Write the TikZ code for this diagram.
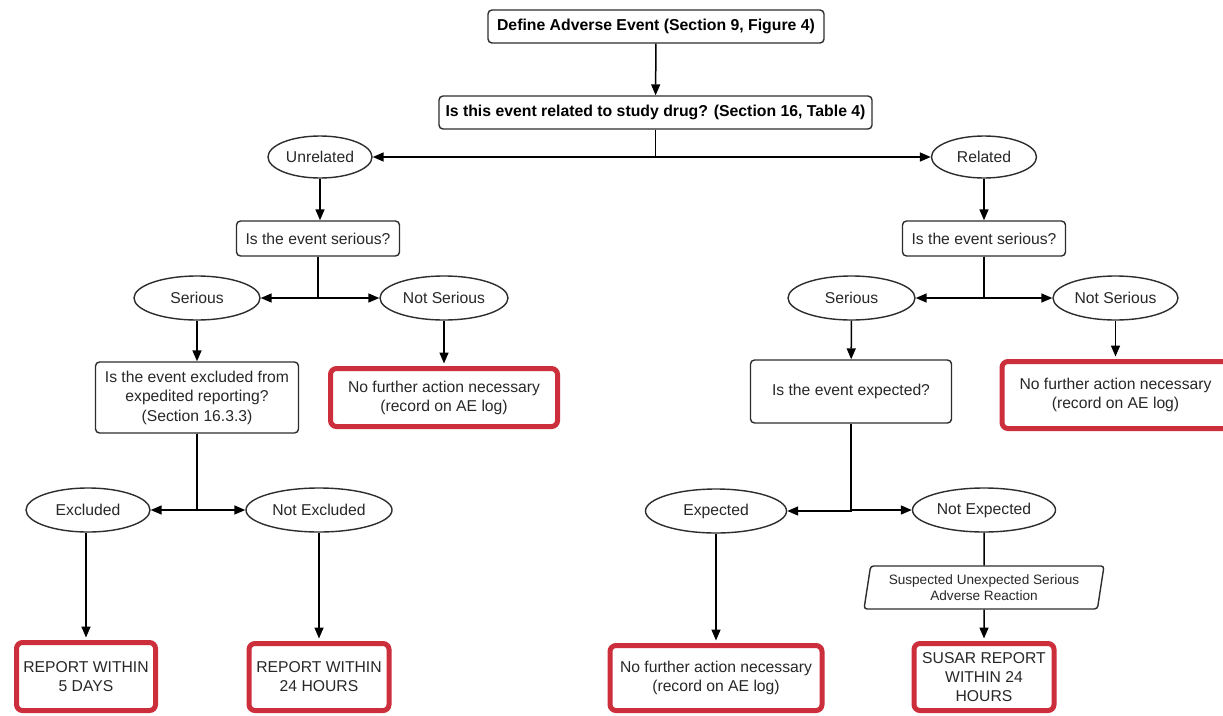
\documentclass[tikz,border=0pt]{standalone}
\usepackage{fontspec}
\setmainfont{Liberation Sans}
\usetikzlibrary{arrows.meta,shapes.geometric}
\definecolor{redb}{RGB}{204,46,60}
\definecolor{txt}{RGB}{40,40,40}
\definecolor{edge}{RGB}{45,45,45}
\tikzset{
  base/.style={inner sep=0pt, align=center, text=txt, font=\fontsize{15.7}{19}\selectfont},
  qbox/.style={base, draw=edge, line width=1.4pt, rounded corners=4pt},
  redbox/.style={base, draw=redb, line width=5pt, rounded corners=6pt},
  oval/.style={base, ellipse, draw=edge, line width=1.4pt},
  para/.style={base, trapezium, trapezium left angle=76, trapezium right angle=104,
     trapezium stretches body, draw=edge, line width=1.4pt, rounded corners=3pt,
     font=\fontsize{13.6}{16.5}\selectfont},
  conn/.style={line width=1.5pt, draw=black, -{Triangle[length=11pt,width=9pt]}},
  plain/.style={line width=1.5pt, draw=black},
}
\begin{document}
\begin{tikzpicture}[x=1pt,y=-1pt]
\useasboundingbox[fill=white] (0,0) rectangle (1223,715);
% top
\node[qbox, minimum width=336pt, minimum height=33pt, font=\bfseries\fontsize{15.8}{18}\selectfont, text=black] (def) at (656,26.5) {Define Adverse Event (Section 9, Figure 4)};
\node[qbox, minimum width=433pt, minimum height=33pt, font=\bfseries\fontsize{15.8}{18}\selectfont, text=black] (rel) at (655.5,112.5) {Is this event related to study drug? (Section 16, Table 4)};
\node[oval, minimum width=104pt, minimum height=42pt] (unr) at (320,157) {Unrelated};
\node[oval, minimum width=105pt, minimum height=42pt] (rld) at (984,157) {Related};
% left branch
\node[qbox, minimum width=163pt, minimum height=35pt] (lser) at (318,238.5) {Is the event serious?};
\node[oval, minimum width=126pt, minimum height=44pt] (ls) at (197,298) {Serious};
\node[oval, minimum width=128pt, minimum height=44pt] (lns) at (444,298) {Not Serious};
\node[qbox, minimum width=203pt, minimum height=71pt, font=\fontsize{15.7}{19.5}\selectfont] (lexc) at (197,397.5) {Is the event excluded from\\expedited reporting?\\(Section 16.3.3)};
\node[redbox, minimum width=227pt, minimum height=58pt] (lnfa) at (444,397.5) {No further action necessary\\(record on AE log)};
\node[oval, minimum width=124pt, minimum height=44pt] (exc) at (88,510) {Excluded};
\node[oval, minimum width=146pt, minimum height=44pt] (nexc) at (319,510) {Not Excluded};
\node[redbox, minimum width=139pt, minimum height=68pt] (r5) at (86,676.5) {REPORT WITHIN\\5 DAYS};
\node[redbox, minimum width=140pt, minimum height=67pt] (r24) at (319,677) {REPORT WITHIN\\24 HOURS};
% right branch
\node[qbox, minimum width=163pt, minimum height=35pt] (rser) at (984,238.5) {Is the event serious?};
\node[oval, minimum width=127pt, minimum height=44pt] (rs) at (851.5,298) {Serious};
\node[oval, minimum width=125pt, minimum height=44pt] (rns) at (1115.5,298) {Not Serious};
\node[qbox, minimum width=201pt, minimum height=63pt] (rexp) at (851,391.5) {Is the event expected?};
\node[redbox, minimum width=227pt, minimum height=67pt] (rnfa) at (1115.5,395) {No further action necessary\\(record on AE log)};
\node[oval, minimum width=141pt, minimum height=44pt] (ex) at (716,511) {Expected};
\node[oval, minimum width=143pt, minimum height=44pt] (nex) at (984,510) {Not Expected};
\node[para, minimum width=240pt, minimum height=43pt] (sus) at (984,587.5) {Suspected Unexpected Serious\\Adverse Reaction};
\node[redbox, minimum width=212pt, minimum height=65pt] (enfa) at (716,678) {No further action necessary\\(record on AE log)};
\node[redbox, minimum width=140pt, minimum height=67pt] (susar) at (984,677) {SUSAR REPORT\\WITHIN 24\\HOURS};
% connectors
\draw[conn] (def) -- (rel);
\draw[conn] (rel.south) |- (unr.east);
\draw[conn] (rel.south) |- (rld.west);
\draw[conn] (unr.south) -- (unr.south |- lser.north);
\draw[conn] (rld) -- (rser);
\draw[conn] (lser.south) |- (ls.east);
\draw[conn] (lser.south) |- (lns.west);
\draw[conn] (rser.south) |- (rs.east);
\draw[conn] (rser.south) |- (rns.west);
\draw[conn] (ls) -- (lexc);
\draw[conn, shorten >=2.5pt] (lns) -- (lnfa);
\draw[conn] (rs) -- (rexp);
\draw[conn, shorten >=2.5pt] (rns) -- (rnfa.north -| rns);
\draw[conn] (lexc.south) |- (exc.east);
\draw[conn] (lexc.south) |- (nexc.west);
\draw[conn] (rexp.south) |- (ex.east);
\draw[conn] (rexp.south) |- (nex.west);
\draw[conn, shorten >=2.5pt] (r5.north |- exc.south) -- (r5.north);
\draw[conn, shorten >=2.5pt] (r24.north |- nexc.south) -- (r24.north);
\draw[conn, shorten >=2.5pt] (enfa.north |- ex.south) -- (enfa.north);
\draw[plain] (nex) -- (sus);
\draw[conn, shorten >=2.5pt] (sus) -- (susar);
\end{tikzpicture}
\end{document}
